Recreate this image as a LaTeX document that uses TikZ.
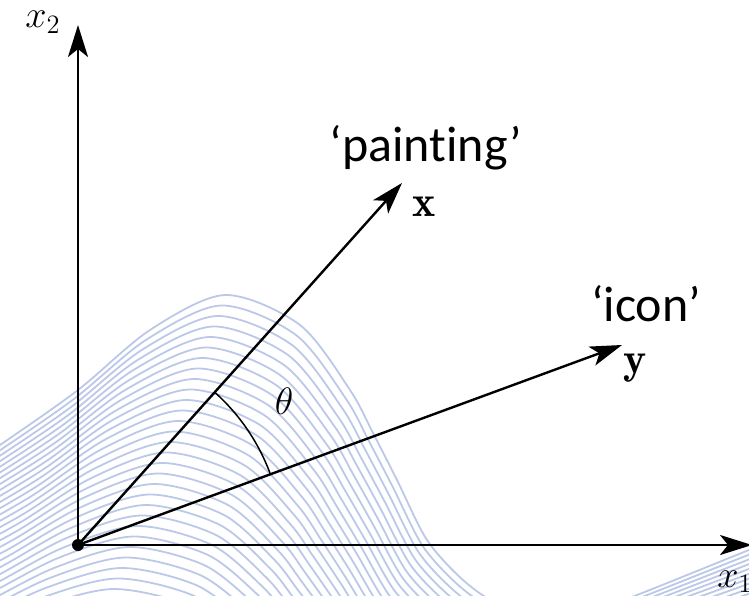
\documentclass[tikz,border=0pt]{standalone}
\usepackage{amsmath}
\usepackage{fontspec}
\newfontfamily\labelfont[Ligatures={NoCommon}]{Carlito}
\usepackage{tikz}
\usetikzlibrary{arrows.meta}
\definecolor{waveblue}{RGB}{188,200,232}

\begin{document}
\begin{tikzpicture}[x=0.5pt,y=0.5pt,
  axis/.style={line width=1.2pt,-{Stealth[length=16pt,width=10pt,inset=4pt]}},
  wave/.style={waveblue,line width=0.9pt},
  mathlabel/.style={inner sep=0pt,font=\huge,scale=0.92},
  veclabel/.style={inner sep=0pt,font=\huge,scale=1.06},
  wordlabel/.style={inner sep=0pt,font=\labelfont\fontsize{25}{30}\selectfont}]
  \useasboundingbox (0,0) rectangle (749,595);
  % Surface slices (behind)
  \begin{scope}
    \clip (0,0) rectangle (749,595);
    \foreach \k in {0,...,40}{
      \pgfmathsetmacro\amp{1-\k/60}
      \draw[wave,shift={(-4*\k,150-8*\k)},yscale=\amp] plot[smooth] coordinates {(-60,-40) (0,0) (78,55) (150,115) (225,150) (300,120) (350,55) (373,12) (397,-35) (427,-95) (463,-135) (500,-160) (560,-178) (637,-150) (749,-105) (850,-65) (950,-40)};
    }
  \end{scope}
  \coordinate (O) at (78,50);
  \coordinate (x1tip) at (752,50);
  \coordinate (x2tip) at (78,570);
  \coordinate (xtip) at (402,412);
  \coordinate (ytip) at (622,250);
  % Axes and vectors
  \draw[axis] (O) -- (x1tip);
  \draw[axis] (O) -- (x2tip);
  \draw[axis] (O) -- (xtip);
  \draw[axis] (O) -- (ytip);
  \fill (O) circle[radius=6];
  \draw[line width=0.75pt] (O) ++(48.2:205) arc[start angle=48.2,end angle=20.2,radius=205];
  % Labels
  \node[mathlabel,anchor=base west] (x2lab) at (25,567) {$x_2$};
  \node[mathlabel,anchor=base west] (x1lab) at (717,8) {$x_1$};
  \node[mathlabel] (thetalab) at (284,194) {$\theta$};
  \node[veclabel,anchor=base] (xlab) at (424,378) {$\mathbf{x}$};
  \node[veclabel,anchor=base] (ylab) at (635,222) {$\mathbf{y}$};
  \node[wordlabel,anchor=base] (painting) at (426,433) {‘painting’};
  \node[wordlabel,anchor=base] (icon) at (646,273) {‘icon’};
\end{tikzpicture}
\end{document}
